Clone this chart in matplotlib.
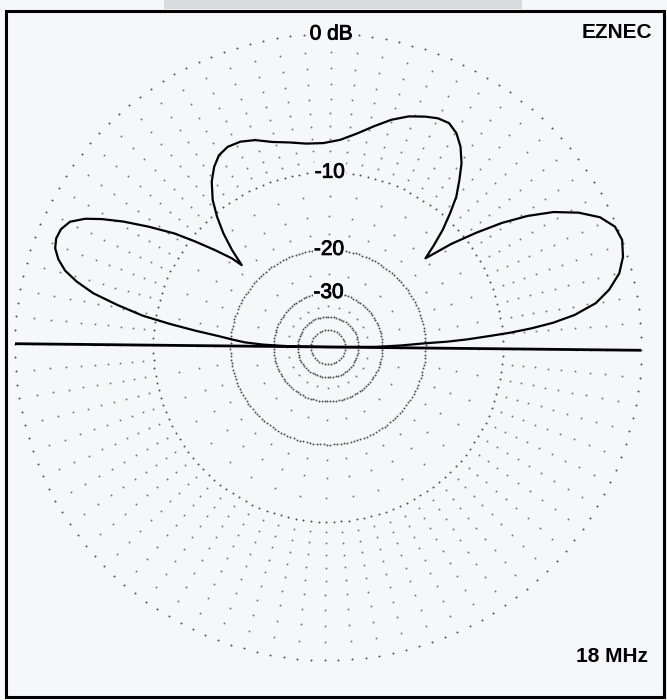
import numpy as np
import matplotlib
matplotlib.use('Agg')
import matplotlib.pyplot as plt
from matplotlib.patches import Rectangle
import matplotlib.patheffects as pe

# ---------------- data ----------------
elev_deg = [0, 0.8, 1.8, 2.8, 3.15, 3.75, 4.5, 5.1, 5.85, 6.75, 8.0, 9.9, 12.1,
            14.8, 17.6, 20.6, 23.35, 26.1, 28.8, 31.5, 33.9, 36.1, 38.2, 40.5,
            42.9, 44.5, 46.2, 48.2, 50.1, 52.4, 54.6, 57.1, 59.6, 62.2, 64.9,
            67.7, 71.3, 75.0, 78.7, 82.8, 87.2, 91.9, 96.7, 101.3, 105.8, 110.0,
            113.7, 117.2, 120.2, 122.9, 125.7, 128.7, 131.0, 133.2, 135.3, 137.1,
            137.9, 140.0, 142.1, 144.1, 146.7, 149.1, 151.1, 152.75, 154.7, 156.8,
            158.8, 160.7, 162.6, 164.4, 166.0, 167.7, 169.3, 171.0, 172.3, 173.6,
            174.8, 176.3, 177.4, 178.5, 179.4, 180]
gain_db = [-99, -32, -25, -20.0, -16.6, -13.8, -11.3, -9.2, -7.3, -5.55, -3.95, -2.45, -1.5,
           -0.7, -0.25, 0.0, -0.1, -0.65, -1.65, -3.0, -4.65, -6.55, -8.8, -11.45,
           -14.85, -12.95, -11.1, -9.4, -7.9, -6.65, -5.5, -4.55, -3.9, -3.55, -3.6,
           -3.85, -4.25, -4.85, -5.6, -6.4, -7.05, -7.35, -7.3, -7.0, -6.65, -6.1,
           -5.8, -5.75, -6.0, -6.6, -7.5, -8.85, -10.35, -12.1, -14.25, -16.6,
           -15.0, -12.75, -10.55, -8.5, -6.4, -4.55, -3.2, -2.25, -1.5, -1.2,
           -1.15, -1.3, -1.7, -2.3, -3.2, -4.5, -6.45, -8.75, -11.55, -14.65,
           -17.7, -20.6, -22.7, -27, -35, -99]
ring_label_db = [0, -10, -20, -30]
ring_labels = ['0 dB', '-10', '-20', '-30']
corner_title = 'EZNEC'
freq_label = '18 MHz'


def arrl(db):
    """ARRL log scale: radius falls by 0.89 every 2 dB."""
    return 0.89 ** (-np.asarray(db, dtype=float) / 2.0)


plt.rcParams['font.family'] = ['Liberation Sans', 'DejaVu Sans']
W, H = 667, 700
BG = '#f6f7f9'
fig = plt.figure(figsize=(W / 100, H / 100), dpi=100, facecolor=BG)

cx, cy, R = 328, 347, 313
ax = fig.add_axes([(cx - R) / W, (H - cy - R) / H, 2 * R / W, 2 * R / H],
                  projection='polar')
ax.set_theta_offset(np.deg2rad(-0.6))
ax.patch.set_visible(False)
ax.grid(False)
ax.set_xticks([])
ax.set_yticks([])
ax.spines['polar'].set_visible(False)


def dots(db, step_deg, size=1.8, color='#555555'):
    th = np.deg2rad(np.arange(0, 360, step_deg))
    ax.scatter(th, np.full(th.shape, arrl(db)), s=size, c=color,
               linewidths=0, zorder=1, clip_on=False)


# dense dotted rings
for db, step in [(0, 2.5), (-10, 2.5), (-20, 2.0), (-30, 3.0), (-40, 5.0), (-50, 10.0)]:
    dots(db, step, size=2.0, color='#4f4f4f')
# intermediate level dots
for db in range(-1, -10, -1):
    dots(db, 5.0, size=2.0, color='#7c7c7c')
for db in (-12.5, -15, -17.5):
    dots(db, 10.0, size=2.0, color='#7c7c7c')
for db in (-25, -35):
    dots(db, 15.0, size=2.0, color='#7c7c7c')

# horizon line
ax.plot([0, 0, np.pi, np.pi], [1, 0, 0, 1], color='k', lw=2.0, zorder=3,
        clip_on=False, solid_capstyle='butt')

# pattern
ax.plot(np.deg2rad(elev_deg), arrl(gain_db), color='k', lw=1.6, zorder=4,
        clip_on=False, solid_joinstyle='round')

for db, lab in zip(ring_label_db, ring_labels):
    ax.text(np.pi / 2, arrl(db), lab, ha='center', va='center', fontsize=15,
            zorder=5, bbox=dict(fc=BG, ec='none', pad=0.4),
            path_effects=[pe.withStroke(linewidth=0.6, foreground='k')])

ax.set_ylim(0, 1)

# corner texts
fig.text(617 / W, 1 - 32 / H, corner_title, ha='center', va='center',
         fontsize=15, fontweight='bold')
fig.text(612 / W, 1 - 656 / H, freq_label, ha='center', va='center',
         fontsize=15, fontweight='bold')

# frame and scan band
fig.add_artist(Rectangle((6 / W, 3 / H), 658 / W, 686 / H, transform=fig.transFigure,
                         fill=False, lw=2.2, ec='k', zorder=10))
fig.add_artist(Rectangle((164 / W, 1 - 9 / H), (522 - 164) / W, 9 / H,
                         transform=fig.transFigure, fc='#d7dade', ec='none', zorder=0))

fig.savefig('out.png', dpi=100, facecolor=BG)
